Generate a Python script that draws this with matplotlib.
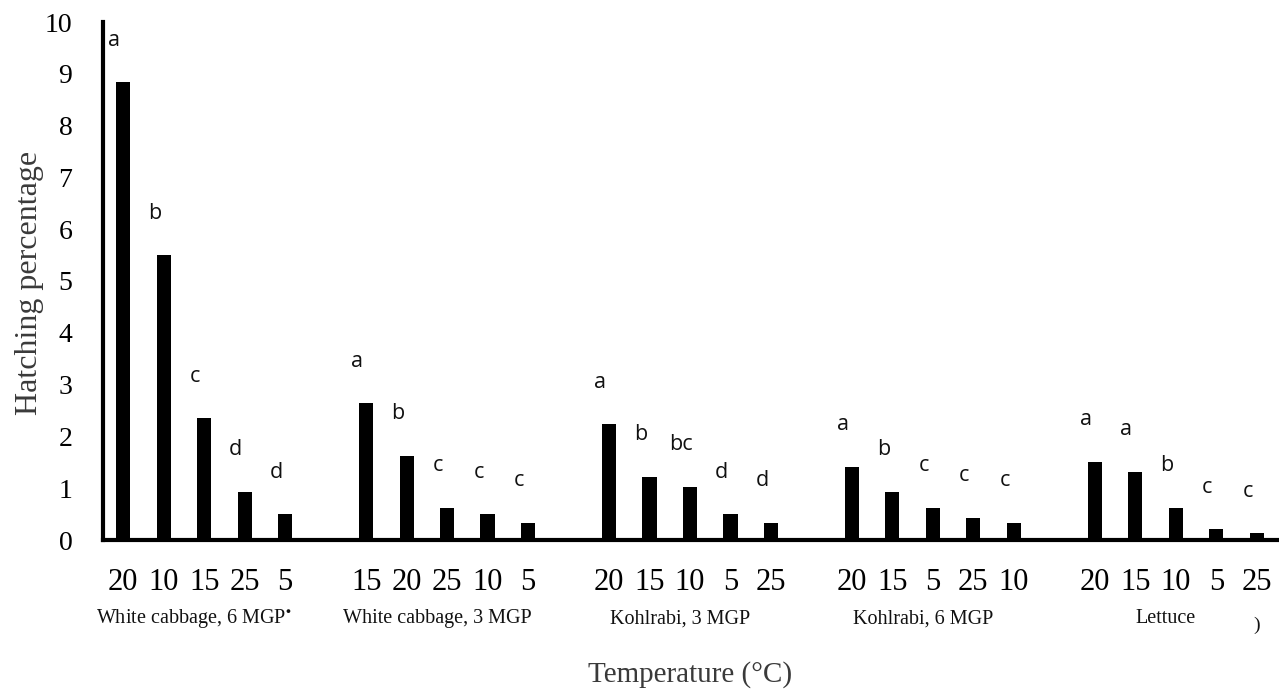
import matplotlib
matplotlib.use("Agg")
import matplotlib.pyplot as plt
import matplotlib.transforms as mtransforms

plt.rcParams['mathtext.fontset'] = 'stix'

groups = ["White cabbage, 6 MGP$^{\\bullet}$", "White cabbage, 3 MGP", "Kohlrabi, 3 MGP",
          "Kohlrabi, 6 MGP", "Lettuce"]
temps = [
    ["20", "10", "15", "25", "5"],
    ["15", "20", "25", "10", "5"],
    ["20", "15", "10", "5", "25"],
    ["20", "15", "5", "25", "10"],
    ["20", "15", "10", "5", "25"],
]
values = [
    [8.84, 5.50, 2.35, 0.93, 0.50],
    [2.64, 1.63, 0.62, 0.50, 0.33],
    [2.23, 1.22, 1.03, 0.50, 0.33],
    [1.41, 0.93, 0.62, 0.43, 0.33],
    [1.51, 1.32, 0.62, 0.21, 0.13],
]
letters = [
    ["a", "b", "c", "d", "d"],
    ["a", "b", "c", "c", "c"],
    ["a", "b", "bc", "d", "d"],
    ["a", "b", "c", "c", "c"],
    ["a", "a", "b", "c", "c"],
]
y_ticks = list(range(0, 11))

fig = plt.figure(figsize=(12.79, 6.93), dpi=100)
ax = fig.add_axes([103/1279, 1 - 540/693, (1279 - 103)/1279, (540 - 22)/693])

serif = ['Liberation Serif', 'DejaVu Serif']
sans = ['Open Sans', 'DejaVu Sans']

xs, xlabels = [], []
for gi, (g_t, g_v, g_l) in enumerate(zip(temps, values, letters)):
    pos = [gi * 6 + j for j in range(len(g_v))]
    ax.bar(pos, g_v, width=0.35, color='black')
    for p, v, l in zip(pos, g_v, g_l):
        ax.annotate(l, (p, v), xytext=(-9, 42), textcoords='offset pixels',
                    ha='center', va='center', fontsize=15.5, family=sans, color='#111111')
    xs += pos
    xlabels += g_t
    trans = mtransforms.blended_transform_factory(ax.transData, ax.transAxes)
    ax.text(pos[2] - 0.25, -0.152, groups[gi], transform=trans, ha='center', va='center',
            fontsize=14.5, family=serif, color='#111111')

ax.set_xticks(xs)
ax.set_xticklabels(xlabels, family=serif, fontsize=22)
ax.set_yticks(y_ticks)
ax.set_yticklabels([str(t) for t in y_ticks], family=serif, fontsize=20)
ax.tick_params(axis='both', length=0)
ax.tick_params(axis='x', pad=20)
ax.tick_params(axis='y', pad=22)

ax.set_xlim(-0.5, 28.55)
ax.set_ylim(0, 10)
for s in ['top', 'right']:
    ax.spines[s].set_visible(False)
ax.spines['left'].set_linewidth(3)
ax.spines['bottom'].set_linewidth(3)

fig.text(30/1279, 1 - 283/693, "Hatching percentage", rotation=90, ha='center', va='center',
         fontsize=23, family=serif, color='#3a3a3a')
fig.text(690/1279, 1 - 675/693, "Temperature (°C)", ha='center', va='center',
         fontsize=21, family=serif, color='#3a3a3a')
fig.text(1257/1279, 1 - 625/693, ")", ha='center', va='center', fontsize=14,
         family=serif, color='#111111')

fig.savefig("out.png", dpi=100)
